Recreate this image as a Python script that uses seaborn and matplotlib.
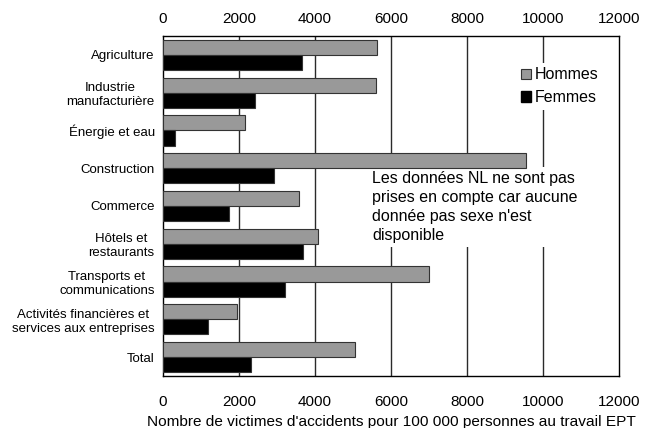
import matplotlib
matplotlib.use("Agg")
import matplotlib.pyplot as plt
import matplotlib.patches as mpatches
import numpy as np
import pandas as pd
import seaborn as sns

# Secteurs d'activité
categories = [
    "Agriculture",
    "Industrie\nmanufacturière",
    "Énergie et eau",
    "Construction",
    "Commerce",
    "Hôtels et\nrestaurants",
    "Transports et\ncommunications",
    "Activités financières et\nservices aux entreprises",
    "Total",
]
# Victimes d'accidents pour 100 000 personnes au travail (EPT)
hommes = [5630, 5600, 2160, 9550, 3580, 4080, 7000, 1950, 5050]
femmes = [3660, 2420, 320, 2920, 1740, 3680, 3210, 1180, 2320]
series = ["Hommes", "Femmes"]
xticks = [0, 2000, 4000, 6000, 8000, 10000, 12000]

df = pd.DataFrame({
    "secteur": categories * 2,
    "valeur": hommes + femmes,
    "sexe": [series[0]] * len(categories) + [series[1]] * len(categories),
})

sns.set_style("white")
plt.rcParams["font.family"] = ["Liberation Sans", "DejaVu Sans"]
for key in ("text.color", "axes.labelcolor", "xtick.color", "ytick.color"):
    plt.rcParams[key] = "black"

fig = plt.figure(figsize=(6.52, 4.28), dpi=100)
ax = fig.add_axes([0.25, 0.1215, 0.6994, 0.7944])

sns.barplot(
    data=df, x="valeur", y="secteur", hue="sexe", order=categories,
    hue_order=series, palette={"Hommes": "#999999", "Femmes": "#000000"},
    orient="h", width=0.8, edgecolor="#333333", linewidth=0.8,
    errorbar=None, legend=False, ax=ax, zorder=3,
)

ax.set_xlim(0, 12000)
ax.set_ylim(len(categories) - 0.5, -0.5)
ax.set_xticks(xticks)
ax.set_xticklabels([str(v) for v in xticks])
for x in xticks[1:-1]:
    ax.axvline(x, color="#2a2a2a", linewidth=1.0, zorder=1)

ax.tick_params(axis="x", top=False, bottom=False, length=0, pad=14, labelsize=11)
ax.tick_params(axis="y", left=False, length=0, pad=6, labelsize=9.5)
for lab in ax.get_yticklabels():
    lab.set_multialignment("center")

# Same scale repeated above the plot
top = ax.secondary_xaxis("top")
top.set_xticks(xticks)
top.set_xticklabels([str(v) for v in xticks])
top.tick_params(axis="x", length=0, pad=7.5, labelsize=11, colors="black")
top.spines["top"].set_visible(False)

ax.set_ylabel("")
ax.set_xlabel("Nombre de victimes d'accidents pour 100 000 personnes au travail EPT",
              fontsize=11.1, labelpad=4)

for sp in ax.spines.values():
    sp.set_visible(True)
    sp.set_color("#000000")
    sp.set_linewidth(1.0)

handles = [
    mpatches.Patch(facecolor="#999999", edgecolor="#333333", linewidth=0.8, label="Hommes"),
    mpatches.Patch(facecolor="#000000", edgecolor="#000000", label="Femmes"),
]
leg = ax.legend(handles=handles, loc="upper left", bbox_to_anchor=(0.775, 0.922),
                frameon=True, fontsize=11.5, handlelength=0.62, handleheight=0.62,
                handletextpad=0.25, labelspacing=0.5, borderpad=0.3,
                borderaxespad=0.0)
leg.get_frame().set_edgecolor("none")
leg.get_frame().set_facecolor("white")
leg.get_frame().set_alpha(1.0)
leg.set_zorder(5)

# White note box sits above the gridlines but below the bars
ax.text(5500, 3.08,
        "Les données NL ne sont pas\nprises en compte car aucune\ndonnée pas sexe n'est\ndisponible",
        fontsize=11.5, ha="left", va="top", linespacing=1.33, zorder=2,
        bbox=dict(facecolor="white", edgecolor="none", pad=3))

fig.savefig("out.png", dpi=100)
